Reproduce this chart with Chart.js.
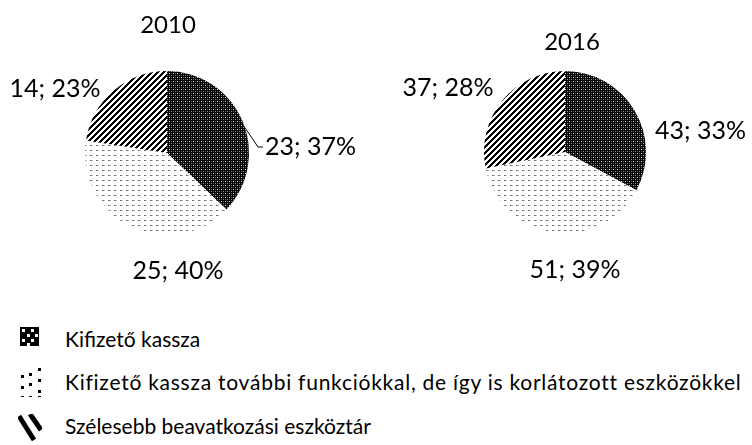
<!DOCTYPE html>
<html>
<head>
<meta charset="utf-8">
<script src="https://cdn.jsdelivr.net/npm/chart.js@4.4.1/dist/chart.umd.min.js"></script>
<style>
  html, body { margin: 0; padding: 0; background: #fff; }
  body { width: 752px; height: 445px; position: relative; overflow: hidden; font-family: Lato, "Open Sans", sans-serif; }
  canvas.pie { position: absolute; left: 0; top: 0; }
  .leg { position: absolute; left: 0; height: 30px; width: 752px; }
  .leg canvas { position: absolute; left: 18px; top: 0; }
  .leg span { position: absolute; left: 65px; top: 1px; font-size: 21px; color: #000; white-space: nowrap; line-height: 26px; }
  #l1 span { letter-spacing: 0.75px; }
</style>
</head>
<body>
<canvas id="c1" class="pie" width="752" height="300"></canvas>
<canvas id="c2" class="pie" width="752" height="300"></canvas>
<div class="leg" id="l0" style="top:325px"><canvas id="s0" width="24" height="26"></canvas><span></span></div>
<div class="leg" id="l1" style="top:368px"><canvas id="s1" width="26" height="30"></canvas><span></span></div>
<div class="leg" id="l2" style="top:412px"><canvas id="s2" width="24" height="32"></canvas><span></span></div>
<script>
// ---- data ----
const categories = [
  'Kifizető kassza',
  'Kifizető kassza további funkciókkal, de így is korlátozott eszközökkel',
  'Szélesebb beavatkozási eszköztár'
];
const years = ['2010', '2016'];
const values2010 = [23, 25, 14];
const values2016 = [43, 51, 37];

// ---- patterns ----
function makePattern(w, h, painter) {
  const c = document.createElement('canvas');
  c.width = w; c.height = h;
  const ctx = c.getContext('2d');
  const img = ctx.createImageData(w, h);
  for (let y = 0; y < h; y++) for (let x = 0; x < w; x++) {
    const v = painter(x, y);
    const i = (y * w + x) * 4;
    img.data[i] = img.data[i + 1] = img.data[i + 2] = v;
    img.data[i + 3] = 255;
  }
  ctx.putImageData(img, 0, 0);
  return ctx.createPattern(c, 'repeat');
}
const patDark = makePattern(4, 4, (x, y) => {
  if (x === 1 && y === 1) return 225;
  if (x === 3 && y === 3) return 150;
  if ((x === 1 && y === 3) || (x === 3 && y === 1)) return 90;
  return 0;
});
const patDots = makePattern(6, 5, (x, y) => {
  if (y === 0 && x === 0) return 95;
  if (y === 0 && x === 1) return 135;
  if (y === 0 && x === 2) return 185;
  return 255;
});
const patStripe = makePattern(6, 6, (x, y) => ((x + y) % 6 < 3 ? 0 : 255));
const patterns = [patDark, patDots, patStripe];

// ---- label layout (style, not data) ----
const layouts = [
  { center: [167, 153], r: 82,
    title: [1, -128],
    labels: [ { dx: 98, dy: -6, align: 'left', leader: true },
              { dx: 11, dy: 118, align: 'center' },
              { dx: -112, dy: -64, align: 'center' } ] },
  { center: [565, 152], r: 81,
    title: [7, -110],
    labels: [ { dx: 90, dy: -21, align: 'left' },
              { dx: 10, dy: 118, align: 'center' },
              { dx: -117, dy: -64, align: 'center' } ] }
];

const labelPlugin = {
  id: 'pieLabels',
  afterDraw(chart, args, opts) {
    const L = opts.layout;
    const meta = chart.getDatasetMeta(0);
    const ds = chart.data.datasets[0].data;
    const total = ds.reduce((a, b) => a + b, 0);
    const ctx = chart.ctx;
    const cx = meta.data[0].x, cy = meta.data[0].y, r = meta.data[0].outerRadius;
    ctx.save();
    ctx.fillStyle = '#000';
    ctx.textBaseline = 'middle';
    ctx.font = '24px Lato';
    ctx.textAlign = 'center';
    ctx.fillText(opts.title, cx + L.title[0], cy + L.title[1]);
    ctx.font = '25px Lato';
    meta.data.forEach((arc, i) => {
      const lab = L.labels[i];
      const txt = ds[i] + '; ' + Math.round(ds[i] / total * 100) + '%';
      const x = cx + lab.dx, y = cy + lab.dy;
      ctx.textAlign = lab.align;
      ctx.fillText(txt, x, y);
      if (lab.leader) {
        const a = (arc.startAngle + arc.endAngle) / 2 + 0.09;
        ctx.strokeStyle = '#000';
        ctx.lineWidth = 1;
        ctx.beginPath();
        ctx.moveTo(cx + r * Math.cos(a), cy + r * Math.sin(a));
        ctx.lineTo(x - 7, y);
        ctx.lineTo(x - 2, y);
        ctx.stroke();
      }
    });
    ctx.restore();
  }
};

function makePie(id, values, title, L) {
  const [cx, cy] = L.center;
  new Chart(document.getElementById(id), {
    type: 'pie',
    data: {
      labels: categories,
      datasets: [{ data: values, backgroundColor: patterns, borderWidth: 0 }]
    },
    options: {
      responsive: false,
      animation: false,
      devicePixelRatio: 1,
      layout: { padding: { left: cx - L.r, right: 752 - cx - L.r, top: cy - L.r, bottom: 300 - cy - L.r } },
      plugins: {
        legend: { display: false },
        tooltip: { enabled: false },
        pieLabels: { layout: L, title: title }
      }
    },
    plugins: [labelPlugin]
  });
}
makePie('c1', values2010, years[0], layouts[0]);
makePie('c2', values2016, years[1], layouts[1]);

// ---- legend ----
function sw(id, draw) {
  const c = document.getElementById(id);
  const ctx = c.getContext('2d');
  ctx.fillStyle = '#000';
  draw(ctx);
}
sw('s0', ctx => {
  ctx.fillRect(2, 2, 19, 19);
  ctx.fillStyle = '#fff';
  [[4, 4], [13, 4], [9, 9], [17, 9], [4, 14], [13, 14], [9, 18]].forEach(([x, y]) => ctx.fillRect(x, y, 3, 3));
});
sw('s1', ctx => {
  [[20, 0], [3, 7], [20, 11], [3, 18], [20, 22], [11, 5], [11, 15]].forEach(([x, y]) => ctx.fillRect(x, y, 3, 3));
  [[3, 28], [11, 28], [20, 28]].forEach(([x, y]) => ctx.fillRect(x, y, 3, 1));
});
sw('s2', ctx => {
  ctx.lineWidth = 5;
  ctx.beginPath(); ctx.moveTo(1, 4); ctx.lineTo(16, 28); ctx.stroke();
  ctx.beginPath(); ctx.moveTo(12, 2); ctx.lineTo(23, 18); ctx.stroke();
  ctx.clearRect(0, 0, 24, 2); ctx.clearRect(0, 29, 24, 3);
});
categories.forEach((c, i) => { document.querySelector('#l' + i + ' span').textContent = c; });
</script>
</body>
</html>
